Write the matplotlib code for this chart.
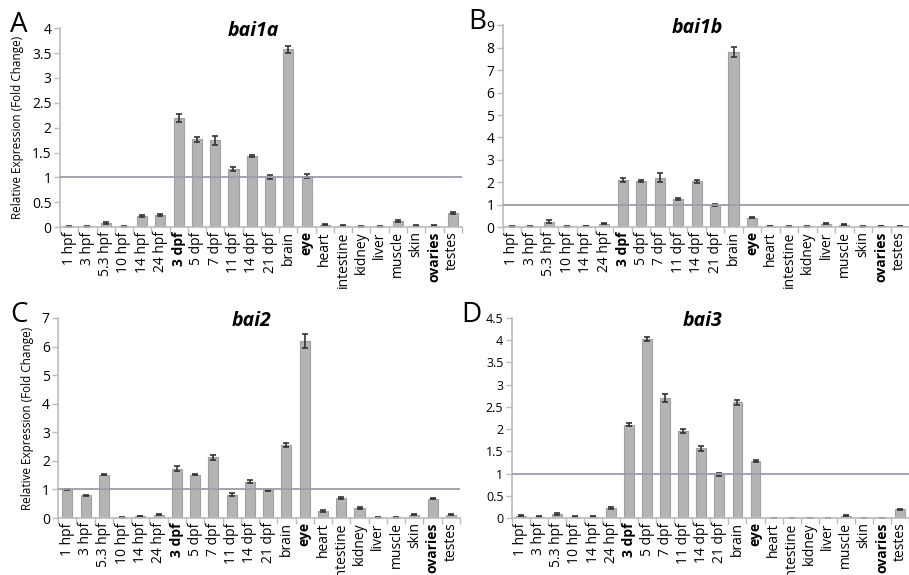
import numpy as np
import matplotlib
matplotlib.use("Agg")
import matplotlib.pyplot as plt

plt.rcParams['font.family'] = ['Open Sans', 'DejaVu Sans']

categories = ['1 hpf', '3 hpf', '5.3 hpf', '10 hpf', '14 hpf', '24 hpf', '3 dpf', '5 dpf',
              '7 dpf', '11 dpf', '14 dpf', '21 dpf', 'brain', 'eye', 'heart', 'intestine',
              'kidney', 'liver', 'muscle', 'skin', 'ovaries', 'testes']
bold_labels = ['3 dpf', 'eye', 'ovaries']

bai1a = [0.02, 0.02, 0.09, 0.02, 0.22, 0.25, 2.2, 1.77, 1.75, 1.16, 1.43, 1.0,
         3.58, 1.03, 0.05, 0.03, 0.02, 0.02, 0.12, 0.03, 0.03, 0.28]
bai1a_err = [0.01, 0.01, 0.02, 0.01, 0.02, 0.02, 0.08, 0.05, 0.09, 0.04, 0.02, 0.04,
             0.07, 0.04, 0.01, 0.01, 0.01, 0.01, 0.02, 0.01, 0.01, 0.02]

bai1b = [0.03, 0.03, 0.25, 0.03, 0.04, 0.15, 2.1, 2.05, 2.2, 1.25, 2.05, 1.0,
         7.8, 0.42, 0.05, 0.03, 0.03, 0.15, 0.1, 0.03, 0.05, 0.05]
bai1b_err = [0.01, 0.01, 0.05, 0.01, 0.01, 0.03, 0.08, 0.05, 0.2, 0.05, 0.07, 0.04,
             0.22, 0.03, 0.01, 0.01, 0.01, 0.03, 0.02, 0.01, 0.01, 0.01]

bai2 = [1.0, 0.8, 1.52, 0.03, 0.07, 0.12, 1.73, 1.52, 2.12, 0.82, 1.27, 0.97,
        2.55, 6.2, 0.25, 0.7, 0.36, 0.03, 0.03, 0.12, 0.67, 0.12]
bai2_err = [0.03, 0.02, 0.03, 0.01, 0.01, 0.02, 0.08, 0.03, 0.1, 0.04, 0.05, 0.02,
            0.08, 0.25, 0.02, 0.02, 0.04, 0.01, 0.01, 0.02, 0.02, 0.02]

bai3 = [0.05, 0.03, 0.09, 0.03, 0.03, 0.23, 2.1, 4.03, 2.7, 1.96, 1.57, 0.98,
        2.6, 1.28, 0.01, 0.0, 0.01, 0.0, 0.05, 0.01, 0.01, 0.2]
bai3_err = [0.01, 0.01, 0.02, 0.01, 0.01, 0.03, 0.03, 0.05, 0.08, 0.05, 0.06, 0.03,
            0.06, 0.03, 0.0, 0.0, 0.0, 0.0, 0.01, 0.0, 0.0, 0.01]

# letter, gene, values, errors, ymax, ystep, axes rect, show ylabel, letter x
panels = [
    ('A', 'bai1a', bai1a, bai1a_err, 4, 0.5, [0.066, 0.605, 0.442, 0.346], True, 0.011),
    ('B', 'bai1b', bai1b, bai1b_err, 9, 1, [0.553, 0.605, 0.447, 0.351], False, 0.515),
    ('C', 'bai2', bai2, bai2_err, 7, 1, [0.064, 0.099, 0.442, 0.348], True, 0.011),
    ('D', 'bai3', bai3, bai3_err, 4.5, 0.5, [0.563, 0.099, 0.437, 0.348], False, 0.507),
]

fig = plt.figure(figsize=(9.09, 5.75), dpi=100)
x = np.arange(len(categories))

for letter, gene, vals, errs, ymax, step, rect, ylab, lx in panels:
    ax = fig.add_axes(rect)
    ax.bar(x, vals, width=0.55, color='#b4b4b4', edgecolor='#a0a0a0', linewidth=0.8,
           yerr=errs, error_kw=dict(ecolor='#333333', elinewidth=1.2, capsize=2.5, capthick=1.2))
    ax.axhline(1, color='#9c9aae', linewidth=1.3, zorder=3)
    ax.set_xlim(-0.5, len(categories) - 0.5)
    ax.set_ylim(0, ymax)
    ticks = np.arange(0, ymax + step / 2, step)
    ax.set_yticks(ticks)
    ax.set_yticklabels(['%g' % t for t in ticks], fontsize=10 if letter != 'D' else 9)
    ax.set_xticks(x)
    ax.set_xticklabels(categories, rotation=90, fontsize=10)
    for lbl in ax.get_xticklabels():
        if lbl.get_text() in bold_labels:
            lbl.set_fontweight('bold')
    ax.set_xticks(np.arange(-0.5, len(categories)), minor=True)
    ax.tick_params(axis='x', which='major', length=0, pad=3)
    ax.tick_params(axis='x', which='minor', length=4, color='#bbbbbb', width=1)
    ax.tick_params(axis='y', length=4, color='#bbbbbb', width=1, pad=2)
    for s in ['top', 'right']:
        ax.spines[s].set_visible(False)
    for s in ['left', 'bottom']:
        ax.spines[s].set_color('#bbbbbb')
        ax.spines[s].set_linewidth(1.2)
    ax.text(0.48, 0.985, gene, transform=ax.transAxes, ha='center', va='center',
            fontsize=14, fontweight='bold', fontstyle='italic')
    if ylab:
        ax.set_ylabel('Relative Expression (Fold Change)', fontsize=8.5, labelpad=6)
    pos = ax.get_position()
    fig.text(lx, pos.y1 + 0.005, letter, fontsize=20, ha='left', va='center')

fig.savefig('out.png', dpi=100)
